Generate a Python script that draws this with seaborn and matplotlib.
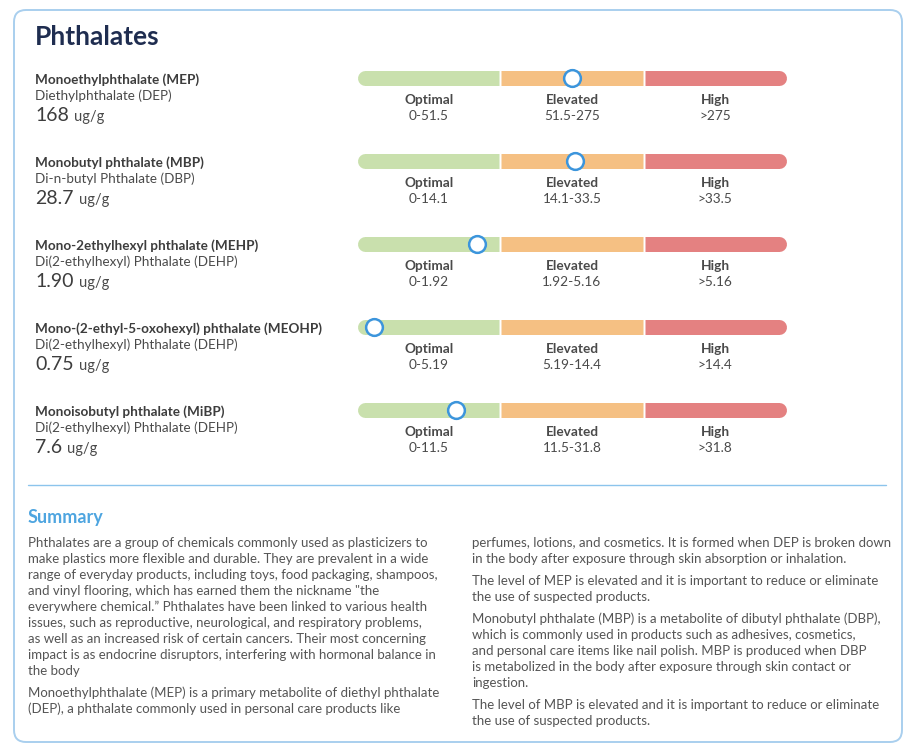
import matplotlib
matplotlib.use("Agg")
import matplotlib.pyplot as plt
from matplotlib.patches import FancyBboxPatch
import seaborn as sns

analytes = ["Monoethylphthalate (MEP)", "Monobutyl phthalate (MBP)",
            "Mono-2ethylhexyl phthalate (MEHP)",
            "Mono-(2-ethyl-5-oxohexyl) phthalate (MEOHP)",
            "Monoisobutyl phthalate (MiBP)"]
parents = ["Diethylphthalate (DEP)", "Di-n-butyl Phthalate (DBP)",
           "Di(2-ethylhexyl) Phthalate (DEHP)", "Di(2-ethylhexyl) Phthalate (DEHP)",
           "Di(2-ethylhexyl) Phthalate (DEHP)"]
value_labels = ["168", "28.7", "1.90", "0.75", "7.6"]
unit = "ug/g"
optimal_upper = [51.5, 14.1, 1.92, 5.19, 11.5]
elevated_upper = [275, 33.5, 5.16, 14.4, 31.8]
# marker position on the gauge, in zone units (0-1 optimal, 1-2 elevated, 2-3 high)
gauge_pos = [1.50, 1.52, 0.84, 0.12, 0.69]

zones = ["Optimal", "Elevated", "High"]
zone_colors = ["#c9e0ad", "#f5c083", "#e48181"]

summary_left = [
    ["Phthalates are a group of chemicals commonly used as plasticizers to",
     "make plastics more flexible and durable. They are prevalent in a wide",
     "range of everyday products, including toys, food packaging, shampoos,",
     "and vinyl flooring, which has earned them the nickname \"the",
     "everywhere chemical.\u201d Phthalates have been linked to various health",
     "issues, such as reproductive, neurological, and respiratory problems,",
     "as well as an increased risk of certain cancers. Their most concerning",
     "impact is as endocrine disruptors, interfering with hormonal balance in",
     "the body"],
    ["Monoethylphthalate (MEP) is a primary metabolite of diethyl phthalate",
     "(DEP), a phthalate commonly used in personal care products like"],
]
summary_right = [
    ["perfumes, lotions, and cosmetics. It is formed when DEP is broken down",
     "in the body after exposure through skin absorption or inhalation."],
    ["The level of MEP is elevated and it is important to reduce or eliminate",
     "the use of suspected products."],
    ["Monobutyl phthalate (MBP) is a metabolite of dibutyl phthalate (DBP),",
     "which is commonly used in products such as adhesives, cosmetics,",
     "and personal care items like nail polish. MBP is produced when DBP",
     "is metabolized in the body after exposure through skin contact or",
     "ingestion."],
    ["The level of MBP is elevated and it is important to reduce or eliminate",
     "the use of suspected products."],
]

sns.set_theme(style="white")
plt.rcParams["font.family"] = ["Lato", "DejaVu Sans"]

W, H = 916, 752
fig = plt.figure(figsize=(W / 100, H / 100), dpi=100)
fig.patch.set_facecolor("white")

# background axes in pixel units for the card and the text
bg = fig.add_axes([0, 0, 1, 1])
bg.set_xlim(0, W)
bg.set_ylim(H, 0)
bg.axis("off")

card = FancyBboxPatch((14, 10), 888, 732, boxstyle="round,pad=0,rounding_size=12",
                      facecolor="white", edgecolor="#a9cfee", linewidth=1.4)
bg.add_patch(card)

bg.text(35, 45, "Phthalates", fontsize=19, fontweight="bold", color="#1f2d50",
        va="baseline")

renderer = fig.canvas.get_renderer()

bar_left, bar_width, bar_h = 357, 430, 15
px_per_unit = bar_width / 3
lw_pt = bar_h * 72 / 100
r = (bar_h / 2) / px_per_unit
gap = 1 / px_per_unit

for i in range(len(analytes)):
    yc = 78 + 83 * i

    bg.text(35, yc + 6, analytes[i], fontsize=9.7, fontweight="bold",
            color="#3d3d3d", va="baseline")
    bg.text(35, yc + 22, parents[i], fontsize=9.7, color="#4a4a4a", va="baseline")
    t = bg.text(35, yc + 43, value_labels[i], fontsize=14, color="#3d3d3d",
                va="baseline")
    w = t.get_window_extent(renderer).width
    bg.text(35 + w + 5, yc + 43, unit, fontsize=10.5, color="#4a4a4a", va="baseline")

    # gauge axes, x in zone units
    gax = fig.add_axes([bar_left / W, (H - yc - bar_h / 2) / H, bar_width / W, bar_h / H])
    gax.set_xlim(0, 3)
    gax.set_ylim(0, 1)
    gax.axis("off")
    gax.patch.set_alpha(0)

    starts = [0, 1, 2]
    for k, (s, c) in enumerate(zip(starts, zone_colors)):
        a = s + (gap if k > 0 else r)
        b = s + 1 - (gap if k < 2 else r)
        gax.plot([a, b], [0.5, 0.5], color=c, lw=lw_pt, solid_capstyle="butt")
        if k == 0:
            gax.plot([r, 2 * r], [0.5, 0.5], color=c, lw=lw_pt, solid_capstyle="round")
        if k == 2:
            gax.plot([3 - 2 * r, 3 - r], [0.5, 0.5], color=c, lw=lw_pt,
                     solid_capstyle="round")

    ranges = [f"0-{optimal_upper[i]:g}", f"{optimal_upper[i]:g}-{elevated_upper[i]:g}",
              f">{elevated_upper[i]:g}"]
    for k in range(3):
        gax.annotate(zones[k], xy=(k + 0.5, 0.5), xytext=(0, -26),
                     textcoords="offset pixels", ha="center", va="baseline",
                     fontsize=9.8, fontweight="bold", color="#4a4a4a",
                     annotation_clip=False)
        gax.annotate(ranges[k], xy=(k + 0.5, 0.5), xytext=(0, -42),
                     textcoords="offset pixels", ha="center", va="baseline",
                     fontsize=9.8, color="#4a4a4a", annotation_clip=False)

    sns.scatterplot(x=[gauge_pos[i]], y=[0.5], ax=gax, s=145, color="white",
                    edgecolor="#3c95dc", linewidth=1.8, zorder=5, legend=False)
    gax.collections[-1].set_clip_on(False)

# summary section
bg.plot([28, 886], [484.5, 484.5], color="#8cc4ec", lw=1)
bg.text(28, 523, "Summary", fontsize=13, fontweight="bold", color="#4ea5e0",
        va="baseline")


def draw_column(paras, x, y0):
    y = y0
    for p in paras:
        for line in p:
            bg.text(x, y, line, fontsize=9.5, color="#555555", va="baseline")
            y += 16
        y += 6


draw_column(summary_left, 28, 547)
draw_column(summary_right, 472, 547)

fig.savefig("out.png", dpi=100, facecolor="white")
